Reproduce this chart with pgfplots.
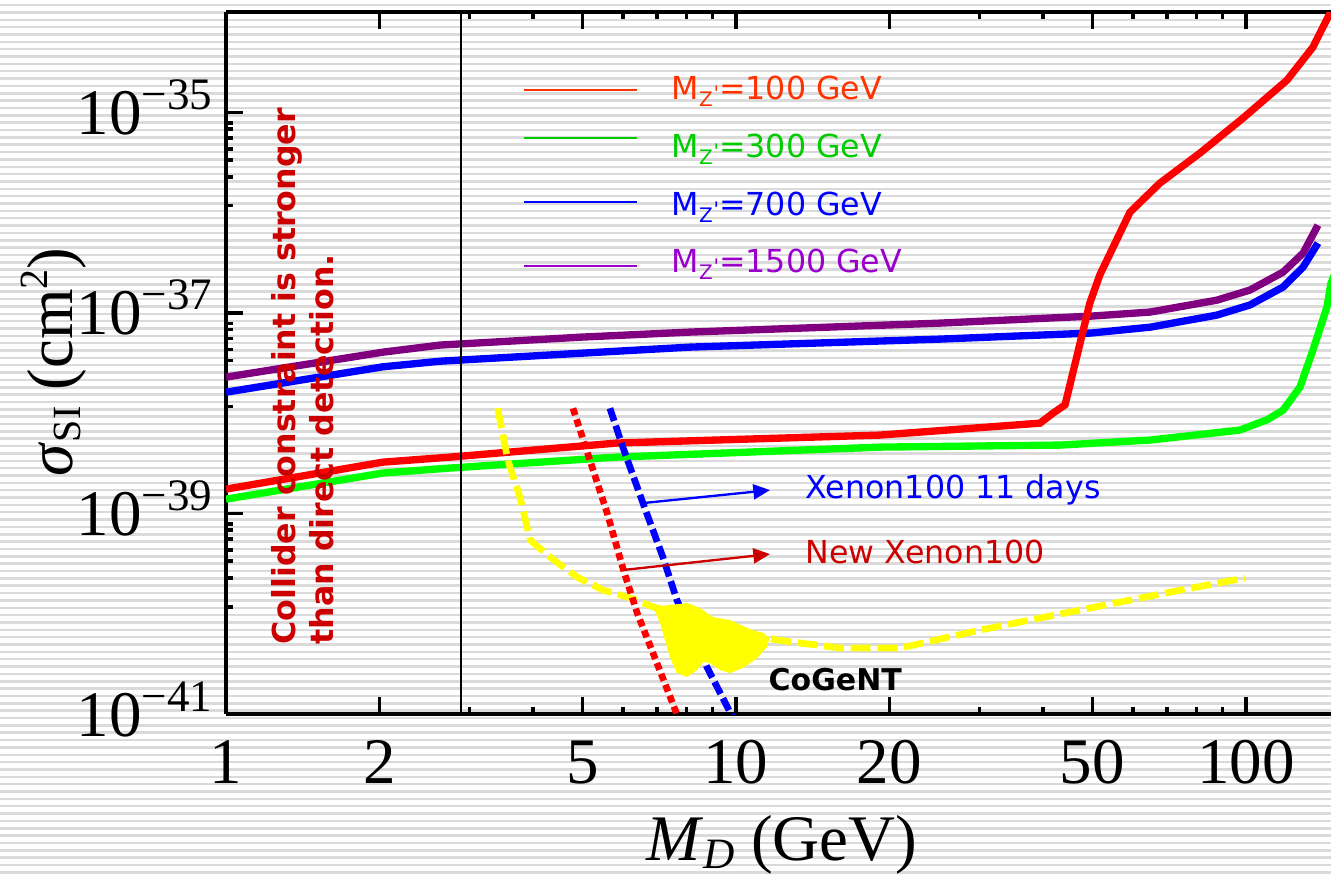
\documentclass[border=0pt]{standalone}
\usepackage{pgfplots}
\pgfplotsset{compat=1.18}
\usepackage{fontspec}
\setmainfont{Liberation Serif}
\newfontfamily\dv{DejaVu Sans}
\usetikzlibrary{arrows.meta}
\definecolor{cred}{RGB}{255,0,0}
\definecolor{cgreen}{RGB}{0,255,0}
\definecolor{cblue}{RGB}{0,0,255}
\definecolor{cpurple}{RGB}{128,0,128}
\definecolor{cyellow}{RGB}{255,255,0}
\definecolor{lred}{RGB}{255,51,0}
\definecolor{lgreen}{RGB}{0,204,0}
\definecolor{lblue}{RGB}{0,0,255}
\definecolor{lpurple}{RGB}{153,0,204}
\definecolor{dred}{RGB}{204,0,0}
\definecolor{stripe}{RGB}{218,218,218}
\newcommand\tnum{\fontsize{19.5}{22}\selectfont}
\newcommand\tp[1]{10\raisebox{7.5pt}{\fontsize{13.5}{14}\selectfont −#1}}
\newcommand\lf{\dv\fontsize{9.5}{11}\selectfont}
\newcommand\zs{\raisebox{-2.1pt}{\fontsize{6}{7}\selectfont Z\kern0.3pt\raisebox{1.6pt}{'}}}
\begin{document}
\begin{tikzpicture}
% background stripes
\begin{scope}[x=0.3pt,y=-0.3pt]
\foreach \i in {0,...,119} {
  \fill[stripe] (0,{\i*7.35+3.8}) rectangle (1331,{\i*7.35+6.3});
}
\end{scope}
\begin{axis}[
  at={(67.8pt,-214.2pt)}, anchor=south west,
  scale only axis, width=331.5pt, height=210.6pt,
  xmode=log, ymode=log,
  xmin=1, xmax=146.8, ymin=1e-41, ymax=1e-34,
  axis y line*=left,
  axis line style={line width=1.2pt, black},
  xtick={1,2,5,10,20,50,100},
  xticklabels={1,2,5,10,20,50,100},
  minor xtick={3,4,6,7,8,9,30,40,60,70,80,90},
  ytick={1e-41,1e-39,1e-37,1e-35},
  yticklabels={\tp{41},\tp{39},\tp{37},\tp{35}},
  minor ytick={1.17e-40,2.27e-40,3.35e-40,4.31e-40,5.56e-40,6.84e-40,7.83e-40,
               1.17e-38,2.27e-38,3.35e-38,4.31e-38,5.56e-38,6.84e-38,7.83e-38,
               1.17e-36,2.27e-36,3.35e-36,4.31e-36,5.56e-36,6.84e-36,7.83e-36},
  major tick length=5pt, minor tick length=2.2pt,
  every tick/.style={black, line width=1pt},
  tick align=inside,
  xticklabel style={font=\tnum, anchor=base, inner sep=0pt, yshift=-20.7pt},
  yticklabel style={font=\tnum, anchor=base east, inner sep=0pt, xshift=-3.9pt, yshift=-6.6pt},
]
% M_Z' = 1500 GeV
\addplot[cpurple, line width=2.2pt] coordinates {
 (1,2.29e-38) (2.03,4.06e-38) (2.63,4.78e-38) (4.99,5.74e-38) (8.13,6.44e-38)
 (25.1,7.91e-38) (49.7,9.29e-38) (64.9,1.02e-37) (87.7,1.34e-37) (101.8,1.69e-37)
 (118.2,2.55e-37) (129.4,3.94e-37) (138.4,7.50e-37)};
% M_Z' = 700 GeV
\addplot[cblue, line width=2.2pt] coordinates {
 (1,1.62e-38) (2.03,2.90e-38) (2.63,3.30e-38) (4.99,3.97e-38) (8.13,4.56e-38)
 (25.1,5.48e-38) (49.7,6.30e-38) (64.9,7.21e-38) (87.7,9.51e-38) (101.8,1.20e-37)
 (118.2,1.81e-37) (129.4,2.86e-37) (138.4,4.97e-37)};
% M_Z' = 300 GeV
\addplot[cgreen, line width=2.2pt] coordinates {
 (1,1.39e-39) (2.03,2.53e-39) (2.75,2.84e-39) (5.84,3.65e-39) (19.16,4.59e-39)
 (43.2,4.81e-39) (64.9,5.40e-39) (97.3,6.79e-39) (110,8.6e-39) (118.2,1.07e-38) (127.6,1.82e-38)
 (135.3,4.26e-38) (144.1,1.14e-37) (146.8,1.98e-37) (150,2.6e-37)};
% M_Z' = 100 GeV
\addplot[cred, line width=2.2pt] coordinates {
 (1,1.75e-39) (2.03,3.25e-39) (2.75,3.65e-39) (5.84,5.04e-39) (19.16,6.05e-39)
 (39.46,7.96e-39) (41.83,1.00e-38) (44.18,1.21e-38) (45.4,2.14e-38) (49.4,1.25e-37)
 (51.7,2.4e-37) (59.23,1.01e-36) (67.8,1.97e-36) (81.2,3.92e-36) (98.65,8.75e-36)
 (120.3,2.09e-35) (135.3,4.47e-35) (146.1,9.75e-35) (150,1.2e-34)};
% CoGeNT-type exclusion (yellow dashed)
\addplot[cyellow, line width=2pt, dash pattern=on 6pt off 2pt] coordinates {
 (3.41,1.12e-38) (3.57,3.40e-39) (3.77,1.46e-39) (3.95,5.43e-40) (4.32,3.67e-40)
 (4.88,2.32e-40) (5.49,1.72e-40) (6.20,1.44e-40) (6.88,1.17e-40) (12.03,5.47e-41)
 (16.0,4.55e-41) (21.0,4.55e-41) (30.1,6.88e-41) (47.3,1.09e-40) (74.3,1.72e-40)
 (99.5,2.27e-40)};
% New Xenon100 (red dotted)
\addplot[cred, line width=2pt, dash pattern=on 2.2pt off 1.3pt] coordinates {
 (4.79,1.12e-38) (5.17,3.40e-39) (5.59,1.01e-39) (6.00,2.86e-40) (6.40,1.02e-40)
 (7.00,3.22e-41) (7.70,9.3e-42)};
% Xenon100 11 days (blue dashed)
\addplot[cblue, line width=2pt, dash pattern=on 4pt off 1.5pt] coordinates {
 (5.66,1.12e-38) (6.00,4.59e-39) (6.57,1.27e-39) (7.19,3.67e-40) (7.66,1.37e-40)
 (8.77,2.94e-41) (9.87,9.1e-42)};
% CoGeNT region
\addplot[fill=cyellow, draw=none] coordinates {
 (6.88,1.17e-40) (8.02,1.28e-40) (8.50,1.14e-40) (9.01,9.27e-41) (9.73,8.65e-41)
 (11.30,6.14e-41) (11.66,5.86e-41) (11.50,4.66e-41) (11.00,3.61e-41) (10.32,2.88e-41)
 (9.73,2.56e-41) (9.30,2.75e-41) (8.89,3.22e-41) (8.62,3.30e-41) (8.39,2.75e-41)
 (8.02,2.34e-41) (7.66,2.56e-41) (7.42,3.70e-41) (7.10,8.07e-41)} -- cycle;
% collider line
\draw[black, line width=0.6pt] (axis cs:2.89,1e-41) -- (axis cs:2.89,1e-34);
% arrows
\draw[cblue, line width=0.7pt, -{Triangle[length=5pt,width=4.5pt]}] (axis cs:6.57,1.27e-39) -- (axis cs:11.66,1.71e-39);
\draw[dred, line width=0.7pt, -{Triangle[length=5pt,width=4.5pt]}] (axis cs:6.0,2.73e-40) -- (axis cs:11.66,3.94e-40);
\end{axis}
\begin{scope}[x=0.3pt,y=-0.3pt]
% legend
\draw[lred, line width=0.6pt] (524,90) -- (637,90);
\draw[lgreen, line width=0.6pt] (524,138) -- (637,138);
\draw[lblue, line width=0.6pt] (524,202) -- (637,202);
\draw[lpurple, line width=0.6pt] (524,266) -- (637,266);
\node[anchor=base west, inner sep=0pt, text=lred, font=\lf] at (671,99) {M\zs=100 GeV};
\node[anchor=base west, inner sep=0pt, text=lgreen, font=\lf] at (671,157) {M\zs=300 GeV};
\node[anchor=base west, inner sep=0pt, text=lblue, font=\lf] at (671,215) {M\zs=700 GeV};
\node[anchor=base west, inner sep=0pt, text=lpurple, font=\lf] at (671,272) {M\zs=1500 GeV};
% annotations
\node[anchor=base west, inner sep=0pt, text=cblue, font=\lf] at (805,498) {Xenon100 11 days};
\node[anchor=base west, inner sep=0pt, text=dred, font=\lf] at (805,563) {New Xenon100};
\node[anchor=base west, inner sep=0pt, text=black, font=\dv\bfseries\fontsize{9}{11}\selectfont] at (768,690) {CoGeNT};
\node[rotate=90, anchor=base west, inner sep=0pt, text=dred, font=\dv\bfseries\fontsize{9.5}{11}\selectfont] at (295,645) {Collider constraint is stronger};
\node[rotate=90, anchor=base west, inner sep=0pt, text=dred, font=\dv\bfseries\fontsize{9.5}{11}\selectfont] at (333,645) {than direct detection.};
% axis labels
\node[rotate=90, anchor=base, inner sep=0pt, font=\tnum] at (72,362) {\textit{σ}\raisebox{-2.4pt}{\fontsize{12}{13}\selectfont SI} (cm\raisebox{7.5pt}{\fontsize{12}{13}\selectfont 2})};
\node[anchor=base, inner sep=0pt, font=\tnum] at (782,860) {\textit{M}\raisebox{-2.5pt}{\fontsize{13}{14}\selectfont\textit{D}} (GeV)};
\end{scope}
\pgfresetboundingbox
\path[use as bounding box] (0pt,0pt) rectangle (399.3pt,-262.2pt);
\end{tikzpicture}
\end{document}
